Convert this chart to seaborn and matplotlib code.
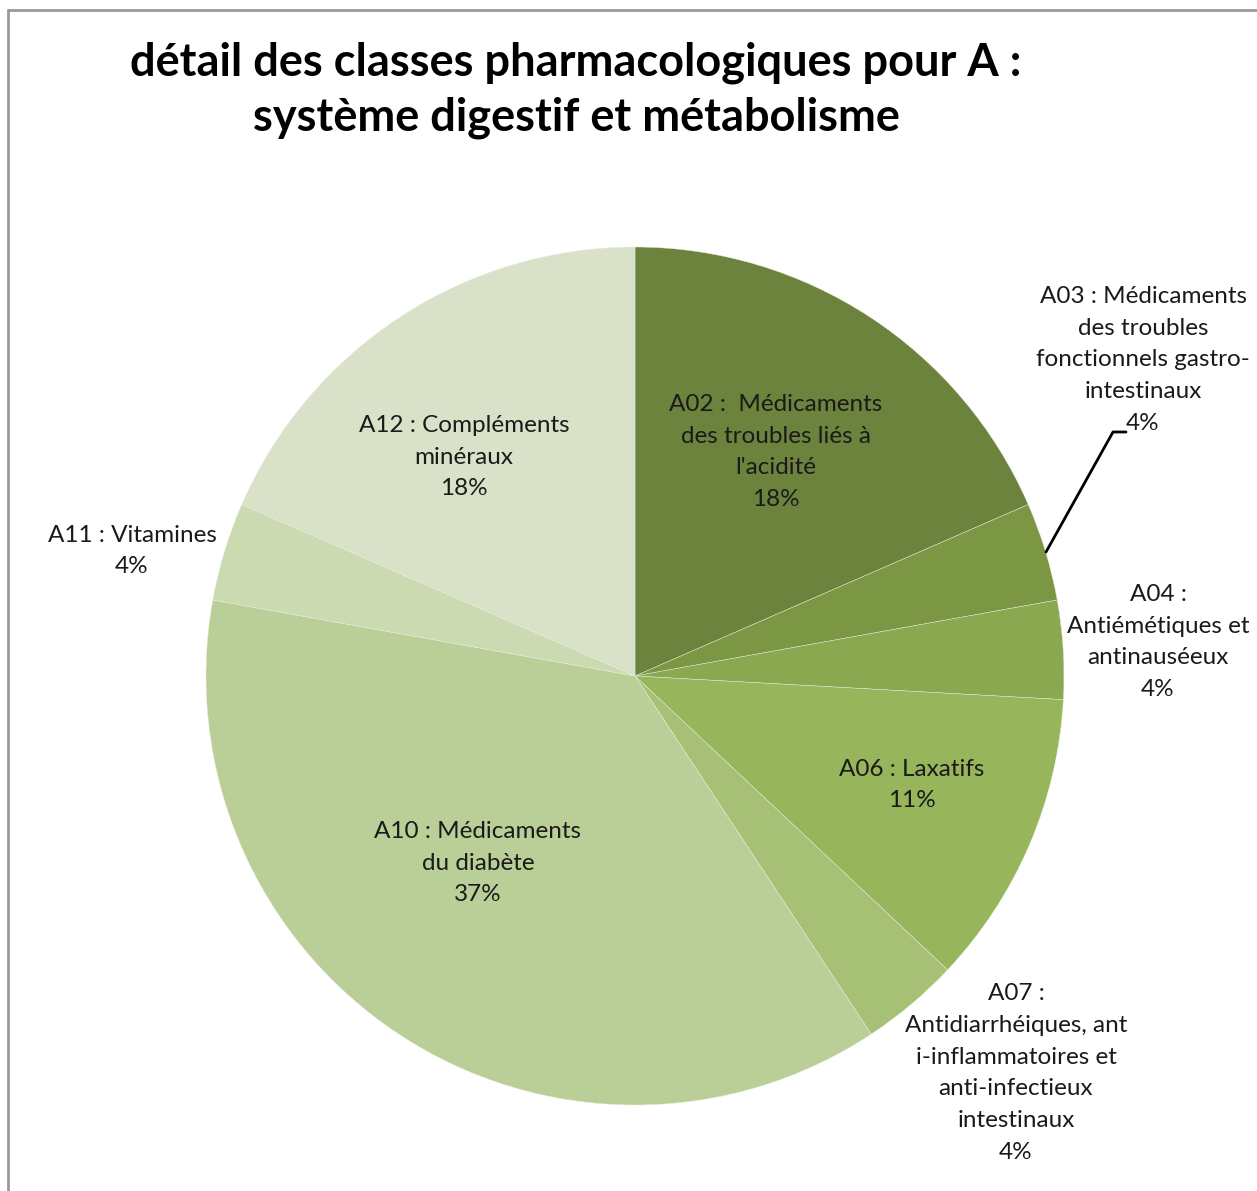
import numpy as np
import matplotlib
matplotlib.use("Agg")
import matplotlib.pyplot as plt
import seaborn as sns

# données (parts en %)
codes = ["A02", "A03", "A04", "A06", "A07", "A10", "A11", "A12"]
libelles = [
    "A02 :  Médicaments\ndes troubles liés à\nl'acidité",
    "A03 : Médicaments\ndes troubles\nfonctionnels gastro-\nintestinaux",
    "A04 :\nAntiémétiques et\nantinauséeux",
    "A06 : Laxatifs",
    "A07 :\nAntidiarrhéiques, ant\ni-inflammatoires et\nanti-infectieux\nintestinaux",
    "A10 : Médicaments\ndu diabète",
    "A11 : Vitamines",
    "A12 : Compléments\nminéraux",
]
parts = [18.4, 3.7, 3.7, 11.1, 3.7, 37.0, 3.7, 18.4]
couleurs = ["#6B833C", "#7B9744", "#89A84F", "#97B55A",
            "#A6C176", "#B9CF97", "#CBDAB1", "#D9E2C8"]

sns.set_theme(style="white")
plt.rcParams["font.family"] = ["Lato", "DejaVu Sans"]

W, H = 1257, 1191
fig = plt.figure(figsize=(W / 100, H / 100), dpi=100)

# centre et rayon du camembert en pixels
cx, cy, r = 635, 676, 429
ax = fig.add_axes([(cx - r) / W, (H - cy - r) / H, 2 * r / W, 2 * r / H])
ax.pie(parts, colors=couleurs, startangle=90, counterclock=False,
       radius=1, wedgeprops=dict(linewidth=0.3, edgecolor="#e8eee0"))
ax.set_xlim(-1, 1)
ax.set_ylim(-1, 1)
ax.set_aspect("equal")
ax.axis("off")

total = sum(parts)
pourcent = [f"{round(100 * p / total):d}%" for p in parts]

# positions des étiquettes (pixels de l'image)
pos_px = [(776, 452), (1143, 360), (1158, 642), (912, 785),
          (1016, 1073), (478, 863), (132, 551), (464, 457)]


def px2data(x, y):
    return (x - cx) / r, (cy - y) / r


for lib, pc, (px, py) in zip(libelles, pourcent, pos_px):
    x, y = px2data(px, py)
    ax.text(x, y, f"{lib}\n{pc}", ha="center", va="center", fontsize=17.5,
            color="#1a1a1a", linespacing=1.63, clip_on=False)

# ligne de rappel pour A03
lx, ly = zip(*[px2data(1046, 552), px2data(1113, 432), px2data(1126, 432)])
ax.plot(lx, ly, color="black", linewidth=2, clip_on=False)

fig.text(576 / W, 1 - 90 / H,
         "détail des classes pharmacologiques pour A :\nsystème digestif et métabolisme",
         ha="center", va="center", fontsize=32.5, fontweight="bold",
         linespacing=1.38, color="black")

# cadre gris (haut et gauche)
fig.add_artist(plt.Line2D([8 / W, 1], [1 - 10 / H, 1 - 10 / H],
                          transform=fig.transFigure, color="#999999", linewidth=2))
fig.add_artist(plt.Line2D([8 / W, 8 / W], [0, 1 - 10 / H],
                          transform=fig.transFigure, color="#999999", linewidth=2))

fig.savefig("out.png", dpi=100, facecolor="white")
